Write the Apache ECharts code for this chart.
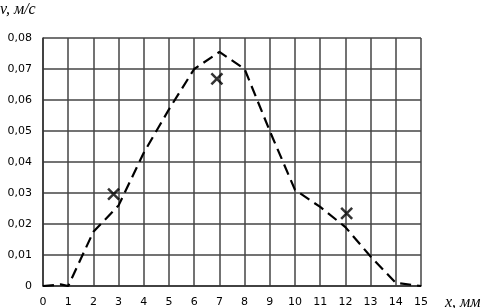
<!DOCTYPE html>
<html><head><meta charset="utf-8">
<script src="https://cdn.jsdelivr.net/npm/echarts@6/dist/echarts.min.js"></script>
<style>html,body{margin:0;padding:0;background:#fff}#c{width:486px;height:308px}</style>
</head><body><div id="c"></div>
<script>
// Curve (dashed line) vertices: x in mm, v in m/s
const curveX = [0, 0.7, 1, 2, 3, 4, 5, 6, 7, 8, 9, 10, 11, 12, 13, 14, 15];
const curveV = [0, 0.0005, 0, 0.0175, 0.026, 0.043, 0.057, 0.070, 0.0755, 0.070, 0.050, 0.031, 0.0255, 0.019, 0.0095, 0.001, 0];
// Measured points (crosses)
const crossX = [2.8, 6.9, 12.05];
const crossV = [0.0296, 0.0668, 0.0234];
const yAxisTitle = 'v, м/с';
const xAxisTitle = 'x, мм';

const chart = echarts.init(document.getElementById('c'), null, {renderer: 'canvas'});
const fmtY = v => v === 0 ? '0' : v.toFixed(2).replace('.', ',');
chart.setOption({
  animation: false,
  backgroundColor: '#fff',
  grid: {left: 43, right: 65, top: 38, bottom: 22, containLabel: false},
  xAxis: {
    type: 'value', min: 0, max: 15, interval: 1,
    axisLine: {show: true, lineStyle: {color: '#333', width: 1.5}},
    axisTick: {show: false},
    axisLabel: {color: '#000', fontFamily: 'DejaVu Sans', fontSize: 11, margin: 11},
    splitLine: {show: true, lineStyle: {color: '#444', width: 1.5}}
  },
  yAxis: {
    type: 'value', min: 0, max: 0.08, interval: 0.01,
    axisLine: {show: true, lineStyle: {color: '#333', width: 1.5}},
    axisTick: {show: false},
    axisLabel: {color: '#000', fontFamily: 'DejaVu Sans', fontSize: 11, margin: 11, formatter: fmtY},
    splitLine: {show: true, lineStyle: {color: '#444', width: 1.5}}
  },
  graphic: [
    {type: 'text', left: 0, top: 2, style: {text: yAxisTitle, font: 'italic 16px "Liberation Serif"', fill: '#000'}},
    {type: 'text', left: 445, top: 295, style: {text: xAxisTitle, font: 'italic 16px "Liberation Serif"', fill: '#000'}}
  ],
  series: [
    {
      type: 'line', data: curveX.map((x, i) => [x, curveV[i]]),
      symbol: 'none', lineStyle: {color: '#000', width: 2.2, type: [11, 6]}, z: 3
    },
    {
      type: 'scatter', data: crossX.map((x, i) => [x, crossV[i]]),
      symbol: 'path://M0,0L10,10M10,0L0,10', symbolSize: 11,
      itemStyle: {color: 'none', borderColor: '#000', borderWidth: 2.5}, z: 4
    }
  ]
});
</script></body></html>
